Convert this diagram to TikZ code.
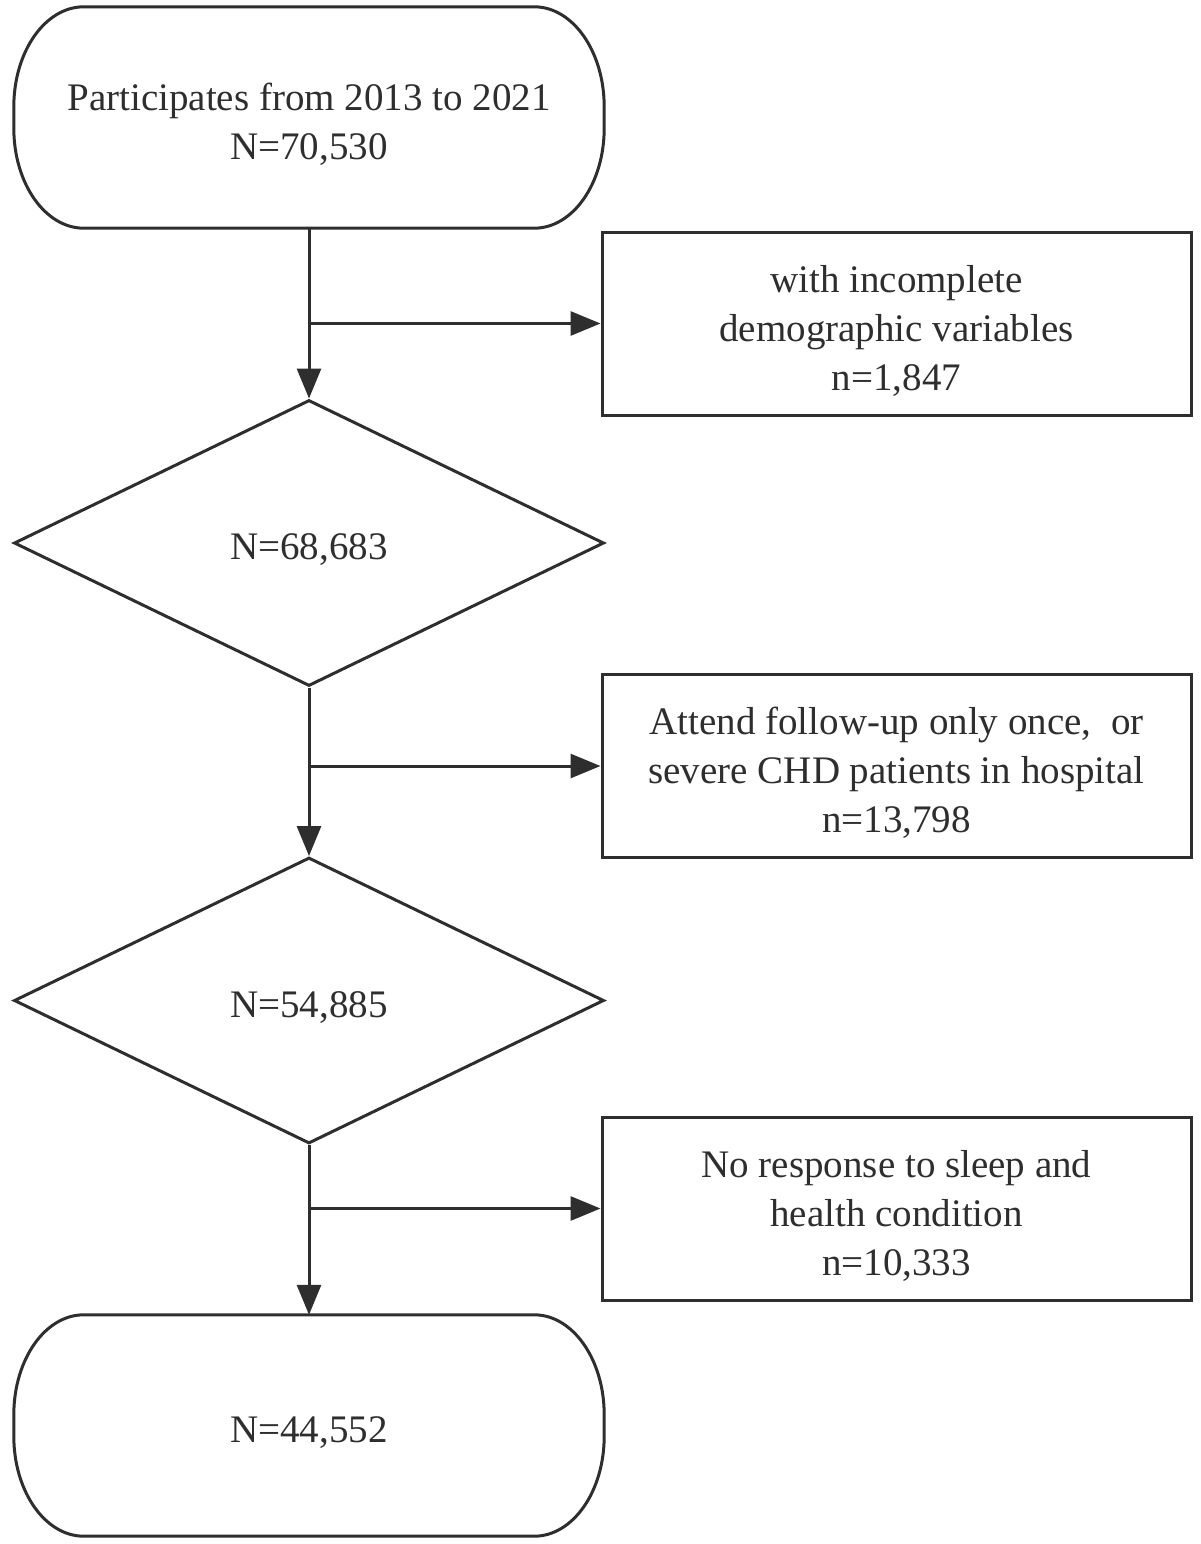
\documentclass[tikz,border=0pt]{standalone}
\usepackage{fontspec}
\setmainfont{Liberation Serif}
\usetikzlibrary{shapes.geometric,arrows.meta}
\definecolor{ink}{HTML}{2E2E2E}
\begin{document}
\begin{tikzpicture}[x=1pt,y=-1pt,
  txt/.style={font=\fontsize{39}{49}\selectfont,text=ink,align=center,inner sep=0pt,yshift=-7pt},
  term/.style={minimum width=590pt,minimum height=221pt,inner sep=0pt},
  dec/.style={shape=diamond,draw=ink,line width=3pt,minimum width=590pt,minimum height=286pt,aspect=2.06,inner sep=0pt},
  excl/.style={draw=ink,line width=3pt,minimum width=589pt,minimum height=183pt,inner sep=0pt},
  conn/.style={draw=ink,line width=3pt,-{Triangle[length=30pt,width=24pt]}},
  outline/.style={draw=ink,line width=3pt}]
\useasboundingbox (0,0) rectangle (1200,1544);
\fill[white] (0,0) rectangle (1200,1544);

\node[term] (t1) at (309,117.5) {};
\node[excl] (b1) at (896.5,323.5) {};
\node[dec] (d1) at (309,543) {};
\node[excl] (b2) at (896.5,766) {};
\node[dec] (d2) at (309,1000.5) {};
\node[excl] (b3) at (896.5,1208.5) {};
\node[term] (t2) at (309,1425.5) {};

\node[txt] (t1x) at (t1.center) {Participates from 2013 to 2021\\N=70,530};
\node[txt] (b1x) at (b1.center) {with incomplete\\demographic variables\\n=1,847};
\node[txt] (d1x) at (d1.center) {N=68,683};
\node[txt] (b2x) at (b2.center) {Attend follow-up only once,~~or\\severe CHD patients in hospital\\n=13,798};
\node[txt] (d2x) at (d2.center) {N=54,885};
\node[txt] (b3x) at (b3.center) {No response to sleep and\\health condition\\n=10,333};
\node[txt] (t2x) at (t2.center) {N=44,552};

\foreach \t in {t1,t2}{
  \draw[outline] ([xshift=70pt]\t.north west) -- ([xshift=-70pt]\t.north east)
    arc[start angle=90,end angle=0,x radius=70pt,y radius=100pt]
    -- ([yshift=100pt]\t.south east)
    arc[start angle=0,end angle=-90,x radius=70pt,y radius=100pt]
    -- ([xshift=70pt]\t.south west)
    arc[start angle=270,end angle=180,x radius=70pt,y radius=100pt]
    -- ([yshift=-100pt]\t.north west)
    arc[start angle=180,end angle=90,x radius=70pt,y radius=100pt] -- cycle;
}

\coordinate (j1) at (t1.south |- b1.west);
\coordinate (j2) at (d1.south |- b2.west);
\coordinate (j3) at (d2.south |- b3.west);

\draw[conn] (t1.south) -- (d1.north);
\draw[conn] (j1) -- (b1.west);
\draw[conn] (d1.south) -- (d2.north);
\draw[conn] (j2) -- (b2.west);
\draw[conn] (d2.south) -- (t2.north);
\draw[conn] (j3) -- (b3.west);
\end{tikzpicture}
\end{document}
